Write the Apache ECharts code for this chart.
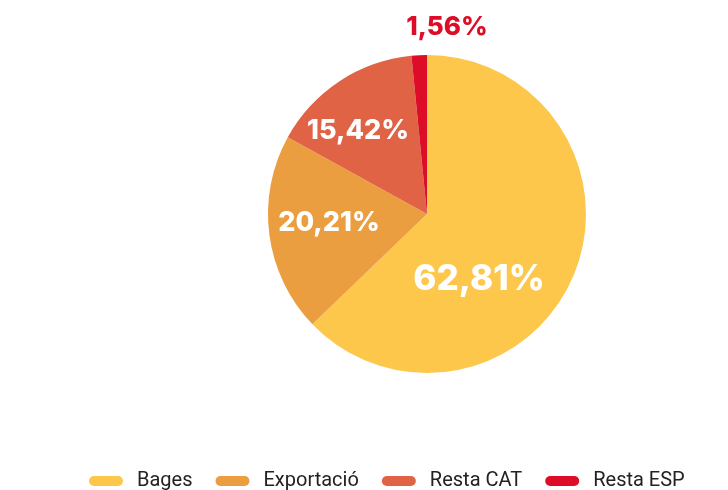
<!DOCTYPE html>
<html>
<head>
<meta charset="utf-8">
<script src="https://cdn.jsdelivr.net/npm/echarts@6/dist/echarts.min.js"></script>
<style>
  html, body { margin: 0; padding: 0; background: #fff; }
  #chart { width: 728px; height: 490px; }
</style>
</head>
<body>
<div id="chart"></div>
<script>
// dades
var categories = ['Bages', 'Exportació', 'Resta CAT', 'Resta ESP'];
var values = [62.81, 20.21, 15.42, 1.56];
var colors = ['#FCC74B', '#EB9E40', '#E06345', '#DD0D27'];

// posició i mida de cada etiqueta (centre del text)
var labelPos = [[479, 279], [329, 223], [358, 131], [447, 27]];
var labelSize = [35, 27, 27, 26];
var labelColor = ['#fff', '#fff', '#fff', '#DD0D27'];

var myChart = echarts.init(document.getElementById('chart'));

var pieData = categories.map(function (name, i) {
    return {
        name: name,
        value: values[i],
        itemStyle: { color: colors[i] },
        label: {
            color: labelColor[i],
            fontSize: labelSize[i]
        }
    };
});

myChart.setOption({
    animation: false,
    legend: {
        left: 84,
        top: 466,
        itemGap: 23,
        itemWidth: 34,
        itemHeight: 10,
        icon: 'path://M5,0 L29,0 A5,5 0 0 1 29,10 L5,10 A5,5 0 0 1 5,0 Z',
        data: categories,
        textStyle: {
            fontFamily: 'Roboto',
            fontSize: 20,
            color: '#222',
            padding: [0, 0, 0, 9]
        }
    },
    series: [
        {
            type: 'pie',
            center: [427, 214],
            radius: 159,
            startAngle: 90,
            clockwise: true,
            avoidLabelOverlap: false,
            label: {
                show: true,
                position: 'inside',
                fontFamily: 'Inter',
                fontWeight: 800,
                formatter: function (p) {
                    return p.value.toFixed(2).replace('.', ',') + '%';
                }
            },
            labelLine: { show: false },
            labelLayout: function (params) {
                var p = labelPos[params.dataIndex];
                return {
                    x: p[0],
                    y: p[1],
                    align: 'center',
                    verticalAlign: 'middle'
                };
            },
            emphasis: { disabled: true },
            data: pieData
        }
    ]
});
</script>
</body>
</html>
